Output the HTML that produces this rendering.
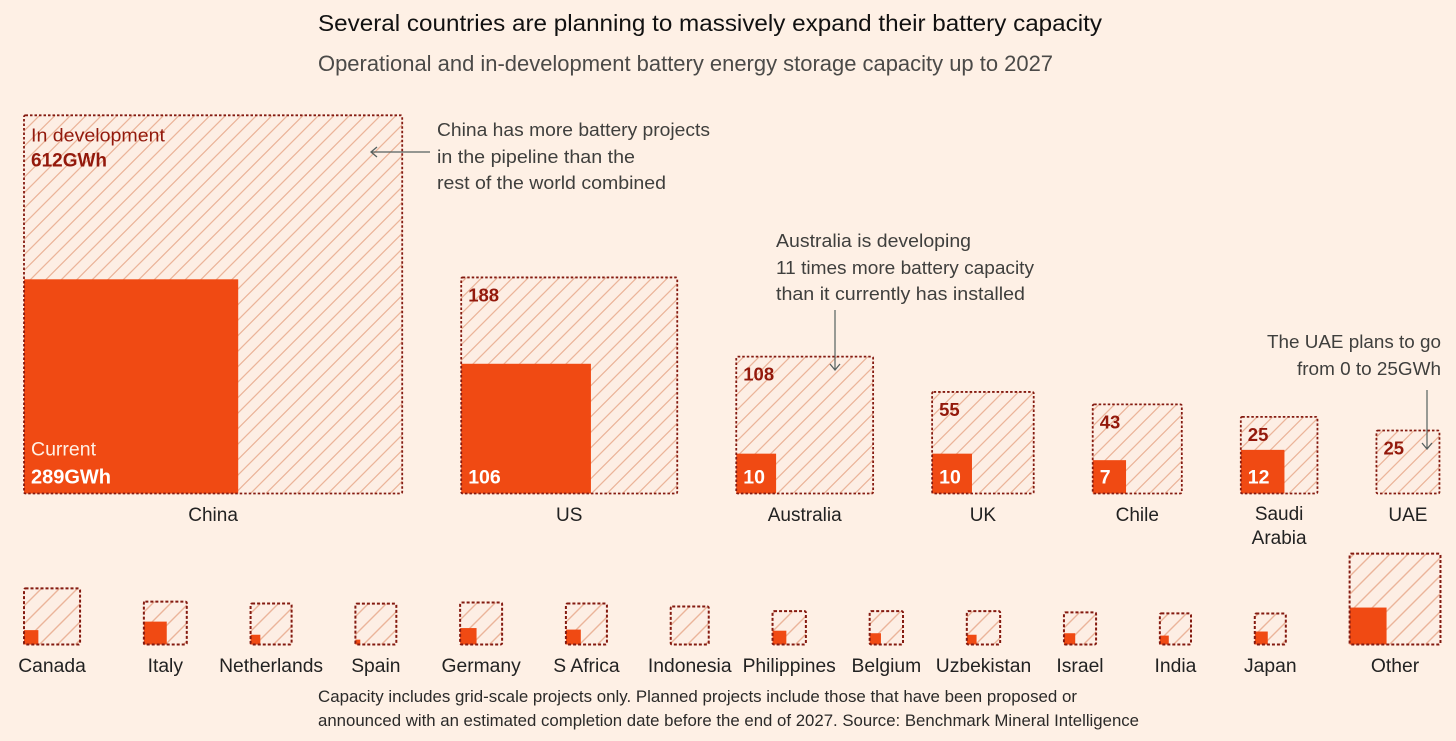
<!DOCTYPE html>
<html lang="en">
<head>
<meta charset="utf-8">
<title>Battery capacity</title>
<style>
html,body{margin:0;padding:0;background:#fff1e5;}
svg{display:block;font-family:"Liberation Sans",sans-serif;}
</style>
</head>
<body>
<svg id="chart" xmlns="http://www.w3.org/2000/svg" width="1456" height="741" viewBox="0 0 1456 741">
  <defs>
    <pattern id="hatch" patternUnits="userSpaceOnUse" width="15.5" height="15.5">
      <path d="M-3,3 L3,-3 M0,15.5 L15.5,0 M12.5,18.5 L18.5,12.5" stroke="#ebb49a" stroke-width="1.3" fill="none"/>
    </pattern>
    <pattern id="hatch-small" patternUnits="userSpaceOnUse" width="18" height="18">
      <path d="M-3,3 L3,-3 M0,18 L18,0 M15,21 L21,15" stroke="#ebb49a" stroke-width="1.4" fill="none"/>
    </pattern>
    <marker id="arrow-head" markerWidth="12" markerHeight="12" refX="10" refY="6" orient="auto" markerUnits="userSpaceOnUse">
      <path d="M4,1 L10,6 L4,11" fill="none" stroke="#55605f" stroke-width="1.3"/>
    </marker>
  </defs>
  <rect width="1456" height="741" fill="#fef0e5"/>
  <text x="318" y="31" font-size="23" fill="#111" textLength="784" lengthAdjust="spacingAndGlyphs">Several countries are planning to massively expand their battery capacity</text>
  <text x="318" y="71" font-size="22" fill="#4b4a48" textLength="735" lengthAdjust="spacingAndGlyphs">Operational and in-development battery energy storage capacity up to 2027</text>
  <g id="marks"></g>
  <g font-size="18.5" fill="#3f3f3d">
    <text x="437" y="136" textLength="273" lengthAdjust="spacingAndGlyphs">China has more battery projects</text>
    <text x="437" y="163" textLength="198" lengthAdjust="spacingAndGlyphs">in the pipeline than the</text>
    <text x="437" y="189" textLength="229" lengthAdjust="spacingAndGlyphs">rest of the world combined</text>
  </g>
  <line x1="430" y1="152" x2="371" y2="152" stroke="#55605f" stroke-width="1.2" marker-end="url(#arrow-head)"/>
  <g font-size="18.5" fill="#3f3f3d">
    <text x="776" y="247" textLength="195" lengthAdjust="spacingAndGlyphs">Australia is developing</text>
    <text x="776" y="274" textLength="258" lengthAdjust="spacingAndGlyphs">11 times more battery capacity</text>
    <text x="776" y="300" textLength="249" lengthAdjust="spacingAndGlyphs">than it currently has installed</text>
  </g>
  <line x1="835" y1="310" x2="835" y2="370" stroke="#55605f" stroke-width="1.2" marker-end="url(#arrow-head)"/>
  <g font-size="18.5" fill="#3f3f3d">
    <text x="1267" y="348" textLength="174" lengthAdjust="spacingAndGlyphs">The UAE plans to go</text>
    <text x="1297" y="375" textLength="144" lengthAdjust="spacingAndGlyphs">from 0 to 25GWh</text>
  </g>
  <line x1="1427" y1="390" x2="1427" y2="449" stroke="#55605f" stroke-width="1.2" marker-end="url(#arrow-head)"/>
  <g font-size="16.5" fill="#2b2a29">
    <text x="318" y="702" textLength="759" lengthAdjust="spacingAndGlyphs">Capacity includes grid-scale projects only. Planned projects include those that have been proposed or</text>
    <text x="318" y="726" textLength="821" lengthAdjust="spacingAndGlyphs">announced with an estimated completion date before the end of 2027. Source: Benchmark Mineral Intelligence</text>
  </g>
</svg>
<script>
const topCountries = ["China", "US", "Australia", "UK", "Chile", "Saudi Arabia", "UAE"];
const topCurrent = [289, 106, 10, 10, 7, 12, 0];
const topDevelopment = [612, 188, 108, 55, 43, 25, 25];
const smallCountries = ["Canada", "Italy", "Netherlands", "Spain", "Germany", "S Africa", "Indonesia", "Philippines", "Belgium", "Uzbekistan", "Israel", "India", "Japan", "Other"];
const smallCurrent = [1.3, 3.3, 0.6, 0.15, 1.7, 1.4, 0, 1.2, 0.8, 0.6, 0.8, 0.5, 1.06, 8.6];
const smallDevelopment = [18.5, 8.3, 10, 10.4, 9.4, 9.2, 9.1, 5.8, 6.2, 6.4, 5.7, 5.6, 5, 43.4];

const NS = "http://www.w3.org/2000/svg";
const marks = document.getElementById("marks");
const sideScale = v => 12.6 * Math.sqrt(v);

function svgEl(tag, attrs, parent) {
  const el = document.createElementNS(NS, tag);
  for (const k in attrs) el.setAttribute(k, attrs[k]);
  parent.appendChild(el);
  return el;
}
function addText(parent, x, y, str, size, fill, weight, anchor) {
  const t = svgEl("text", {x: x, y: y, "font-size": size, fill: fill, "font-weight": weight || "normal", "text-anchor": anchor || "start"}, parent);
  t.textContent = str;
  return t;
}

function drawRow(names, current, development, opts) {
  let x = opts.startX;
  names.forEach((name, i) => {
    const total = current[i] + development[i];
    const side = sideScale(total);
    const curSide = sideScale(current[i]);
    const top = opts.baseY - side;
    const g = svgEl("g", {}, marks);
    
    

    const dev = svgEl("rect", {x: x, y: top, width: side, height: side, fill: "#fdeee4"}, g);
    
    
    const hatch = svgEl("rect", {x: x, y: top, width: side, height: side, fill: opts.hatch}, g);
    
    
    if (current[i] > 0) {
      const cur = svgEl("rect", {x: x, y: opts.baseY - curSide, width: curSide, height: curSide, fill: "#f04a13"}, g);
      
      
    }
    const border = svgEl("rect", {x: x, y: top, width: side, height: side, rx: 1.5, fill: "none", stroke: "#841a10", "stroke-width": opts.borderWidth, "stroke-dasharray": opts.dash}, g);
    
    

    const cx = x + side / 2;
    if (opts.wrap && name.split(" ").length > 1) {
      name.split(" ").forEach((part, j) => {
        const l = addText(g, cx, opts.labelY - 1 + j * 24, part, opts.labelSize, "#222", "normal", "middle");
        
        
      });
    } else {
      const l = addText(g, cx, opts.labelY, name, opts.labelSize, "#222", "normal", "middle");
      
      
    }

    if (opts.values) {
      if (i === 0) {
        const a = addText(g, x + 7, top + 26, "In development", 18.5, "#93190c");
        a.setAttribute('textLength', '134');
        a.setAttribute('lengthAdjust', 'spacingAndGlyphs');
        
        
        const b = addText(g, x + 7, top + 51, development[i] + "GWh", 19, "#93190c", "bold");
        
        
        const c = addText(g, x + 7, opts.baseY - 38, "Current", 19.5, "#fff1e5");
        
        
        const d = addText(g, x + 7, opts.baseY - 10, current[i] + "GWh", 20, "#fff", "bold");
        
        
      } else {
        const b = addText(g, x + 7, top + 24, String(development[i]), 18.5, "#93190c", "bold");
        
        
        if (current[i] > 0) {
          const d = addText(g, x + 7, opts.baseY - 10, String(current[i]), 19.5, "#fff", "bold");
          
          
        }
      }
    }
    x += side + opts.gap;
  });
}

drawRow(topCountries, topCurrent, topDevelopment, {
  startX: 24, baseY: 493.5, gap: 59, borderWidth: 1.8, dash: "2.5 2", hatch: "url(#hatch)", labelY: 521, labelSize: 19, values: true, wrap: true
});
drawRow(smallCountries, smallCurrent, smallDevelopment, {
  startX: 24, baseY: 644.5, gap: 63.8, borderWidth: 2, dash: "3 2", hatch: "url(#hatch-small)", labelY: 672, labelSize: 19.3, values: false, wrap: false
});
</script>
</body>
</html>
